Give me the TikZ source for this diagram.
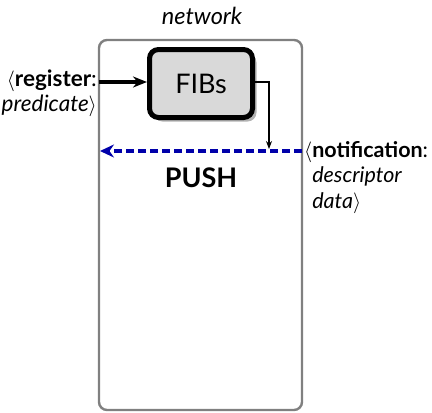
\documentclass[tikz,border=0pt]{standalone}
\usepackage{fontspec}
\setmainfont{Lato}
\usetikzlibrary{arrows.meta,shadows}
\definecolor{pushblue}{RGB}{0,0,170}
\definecolor{fibfill}{RGB}{217,217,217}
\definecolor{framegray}{RGB}{128,128,128}
\tikzset{
  frame/.style={draw=framegray,line width=2.4pt,rounded corners=8pt},
  fibbox/.style={draw=black,line width=5pt,rounded corners=9pt,fill=fibfill,
    minimum width=103pt,minimum height=68pt,inner sep=0pt,
    drop shadow={shadow xshift=4pt,shadow yshift=-4pt,fill=black,opacity=0.3},
    font=\fontsize{27}{31}\selectfont},
  msg/.style={inner sep=0pt,font=\fontsize{22.5}{25}\selectfont},
  regarrow/.style={line width=4pt,-{Stealth[length=14pt,width=11pt]}},
  thinarrow/.style={line width=1.2pt,-{Stealth[length=8pt,width=6pt]}},
  pusharrow/.style={draw=pushblue,line width=4pt,dash pattern=on 8pt off 4pt,
    -{Stealth[length=14pt,width=13pt]}},
}
\begin{document}
\begin{tikzpicture}[x=1pt,y=-1pt]
  \useasboundingbox (0,0) rectangle (432,413);
  % network frame
  \draw[frame] (99,40) rectangle (302,410);
  \coordinate (frameW) at (99,82);
  \coordinate (frameE) at (302,151);
  \coordinate (frameWpush) at (100,151);
  \node[anchor=base,inner sep=0pt,font=\fontsize{23.5}{27}\selectfont\itshape] (title) at (202,24) {network};
  % forwarding tables
  \node[fibbox] (fib) at (201,83.5) {FIBs};
  % incoming registration
  \node[msg,anchor=base east] (reg) at (97,86)
    {\begin{tabular}[t]{@{}r@{}}$\langle$\textbf{register}:\\ \textit{predicate}$\rangle$\end{tabular}};
  \draw[regarrow] (frameW) -- (fib.west |- frameW);
  % notification pushed back out
  \draw[pusharrow] (frameE) -- (frameWpush);
  \coordinate (drop) at (269,149);
  \draw[thinarrow] (fib.east |- frameW) -| (drop);
  \node[msg,font=\fontsize{21.5}{25.5}\selectfont,anchor=base west] (note) at (304,157)
    {\begin{tabular}[t]{@{}l@{}}$\langle$\textbf{notification}:\\ \hphantom{$\langle$}\textit{descriptor}\\ \hphantom{$\langle$}\textit{data}$\rangle$\end{tabular}};
  \node[anchor=base,inner sep=0pt,font=\fontsize{27}{32}\selectfont\bfseries] (push) at (201,187) {PUSH};
\end{tikzpicture}
\end{document}
